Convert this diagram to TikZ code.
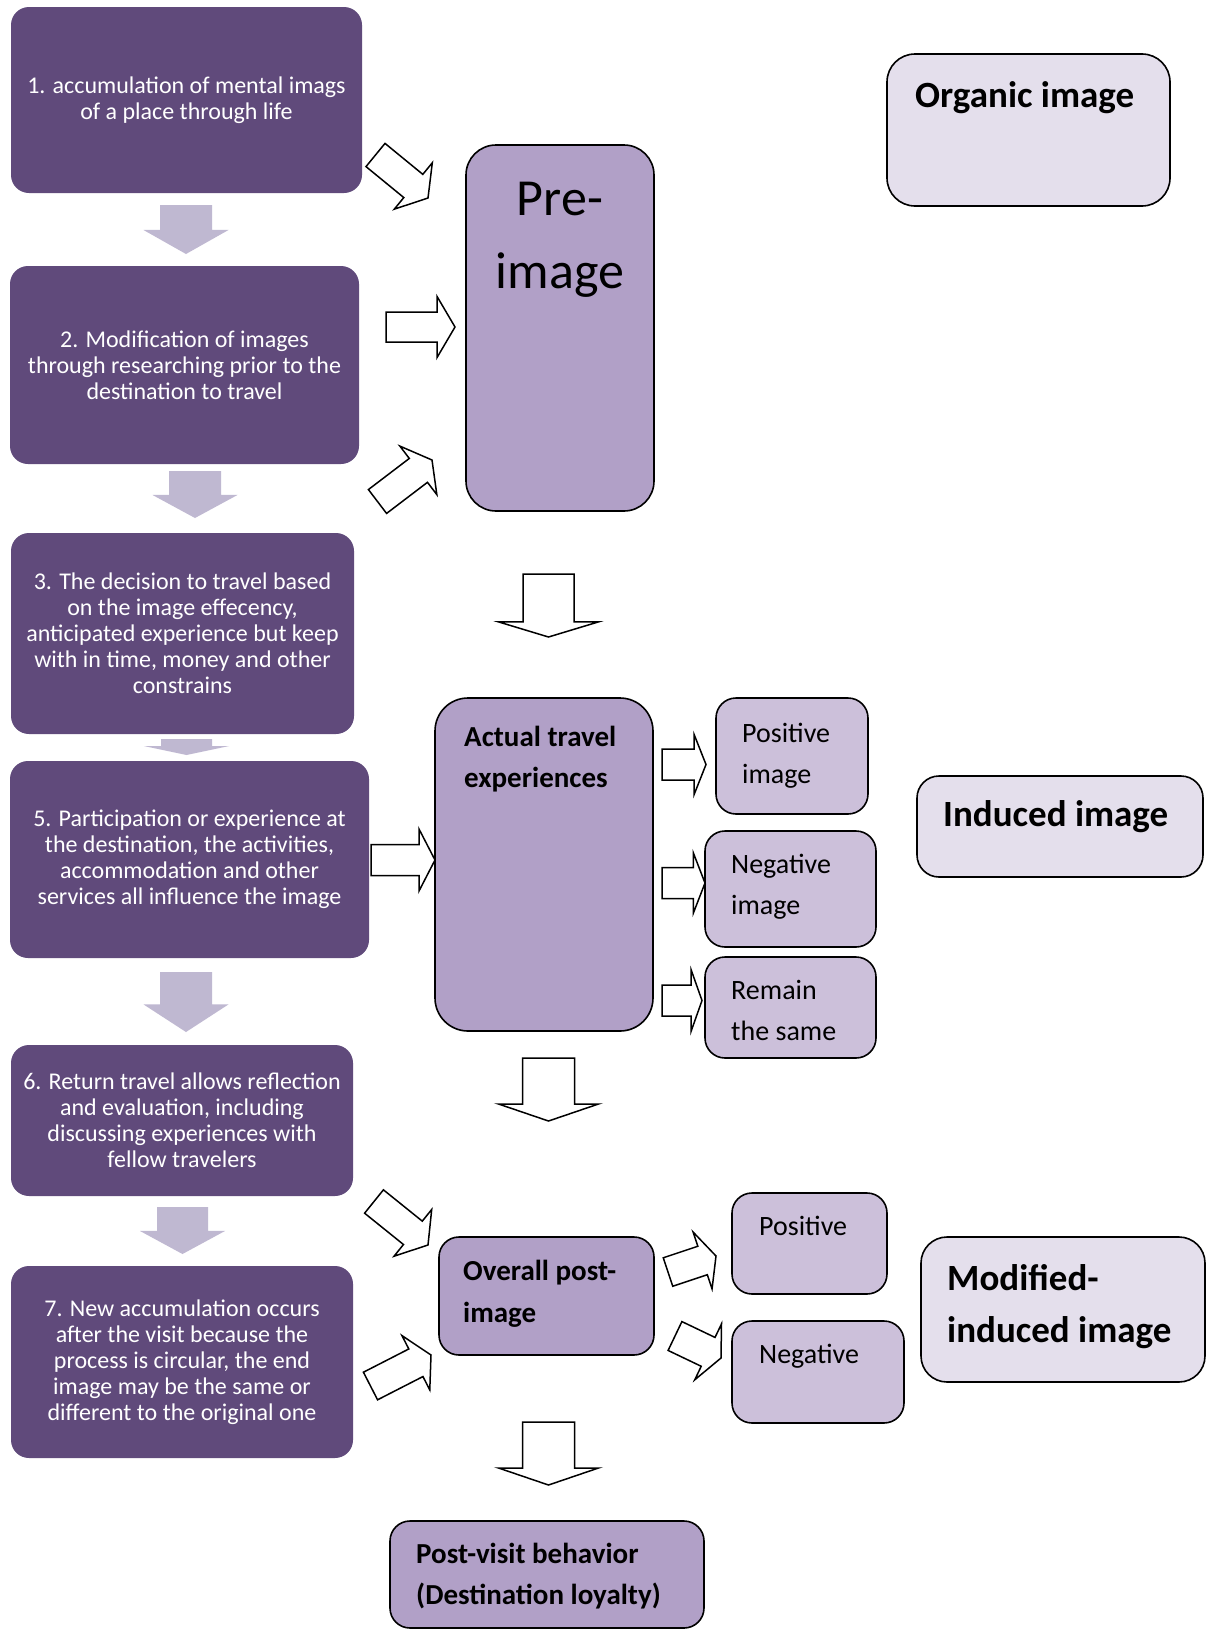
\documentclass[tikz,border=0pt]{standalone}
\usepackage{fontspec}
\setmainfont{Carlito}
\usetikzlibrary{calc}
\definecolor{darkpur}{HTML}{604A7B}
\definecolor{midpur}{HTML}{B1A0C7}
\definecolor{litpur}{HTML}{CCC0DA}
\definecolor{palepur}{HTML}{E4DFEC}
\definecolor{grayarr}{RGB}{191,184,209}
% block arrow: #1 style, #2 tail centre, #3 tip, #4 head-base fraction, #5 shaft half width, #6 head half width
\newcommand\blockarr[6]{%
  \coordinate (babase) at ($(#2)!#4!(#3)$);
  \path[#1] ($(#2)!#5!90:(#3)$) -- ($(babase)!#5!90:(#3)$) -- ($(babase)!#6!90:(#3)$) -- (#3)
    -- ($(babase)!#6!-90:(#3)$) -- ($(babase)!#5!-90:(#3)$) -- ($(#2)!#5!-90:(#3)$) -- cycle;}
\tikzset{
  darkbox/.style={fill=darkpur, rounded corners=18pt, text=white, font=\fontsize{24}{26}\selectfont, align=center, inner sep=0pt},
  midbox/.style={fill=midpur, draw=black, line width=1.6pt, inner sep=0pt},
  litbox/.style={fill=litpur, draw=black, line width=1.6pt, inner sep=0pt, rounded corners=20pt},
  palebox/.style={fill=palepur, draw=black, line width=1.6pt, inner sep=0pt},
  boldtxt/.style={font=\bfseries\fontsize{29}{41.5}\selectfont, align=left, inner sep=0pt, anchor=base west},
  regtxt/.style={font=\fontsize{28}{41}\selectfont, align=left, inner sep=0pt, anchor=base west},
  bigtxt/.style={font=\bfseries\fontsize{37}{52}\selectfont, align=left, inner sep=0pt, anchor=base west},
  hollow/.style={draw=black, fill=white, line width=1.5pt, line join=miter},
  grayfill/.style={fill=grayarr}
}
\begin{document}
\begin{tikzpicture}[x=1pt, y=-1pt]
\fill[white] (0,0) rectangle (1207,1630);
\path[use as bounding box] (0,0) rectangle (1207,1630);

% left column
\node[darkbox, minimum width=351pt, minimum height=186pt] (b1) at (186.5,100) {1. accumulation of mental imags\\of a place through life};
\node[darkbox, minimum width=349pt, minimum height=198pt] (b2) at (184.5,365) {2. Modification of images\\through researching prior to the\\destination to travel};
\node[darkbox, minimum width=343pt, minimum height=201pt] (b3) at (182.5,633.5) {3. The decision to travel based\\on the image effecency,\\anticipated experience but keep\\with in time, money and other\\constrains};
\node[darkbox, minimum width=359pt, minimum height=197pt] (b5) at (189.5,859.5) {5. Participation or experience at\\the destination, the activities,\\accommodation and other\\services all influence the image};
\node[darkbox, minimum width=342pt, minimum height=151pt] (b6) at (182,1120.5) {6. Return travel allows reflection\\and evaluation, including\\discussing experiences with\\fellow travelers};
\node[darkbox, minimum width=342pt, minimum height=192pt] (b7) at (182,1362) {7. New accumulation occurs\\after the visit because the\\process is circular, the end\\image may be the same or\\different to the original one};

% gray arrows between steps
\coordinate (g1T) at (186,205); \coordinate (g1P) at (186,254);
\coordinate (g2T) at (195,471); \coordinate (g2P) at (195,518);
\coordinate (g3T) at (186.5,739); \coordinate (g3P) at (186.5,755);
\coordinate (g4T) at (186,972); \coordinate (g4P) at (186,1032);
\coordinate (g5T) at (182.5,1207); \coordinate (g5P) at (182.5,1254);
\blockarr{grayfill}{g1T}{g1P}{0.51}{26pt}{42.5pt}
\blockarr{grayfill}{g2T}{g2P}{0.51}{26pt}{42.5pt}
\blockarr{grayfill}{g3T}{g3P}{0.44}{25.5pt}{42.5pt}
\blockarr{grayfill}{g4T}{g4P}{0.54}{26pt}{42.5pt}
\blockarr{grayfill}{g5T}{g5P}{0.51}{25.5pt}{42.5pt}

% middle column
\node[midbox, rounded corners=30pt, minimum width=188pt, minimum height=366pt] (pre) at (560,328) {};
\node[font=\fontsize{52}{73}\selectfont, align=center, anchor=base, inner sep=0pt] (pretxt) at (560,288) {Pre-\\image};

\node[midbox, rounded corners=33pt, minimum width=218pt, minimum height=333pt] (actual) at (544,864.5) {};
\node[boldtxt] (actualtxt) at (464,787.5) {Actual travel\\experiences};

\node[midbox, rounded corners=20pt, minimum width=215pt, minimum height=118pt] (overall) at (546.5,1296) {};
\node[boldtxt] (overalltxt) at (463,1322) {Overall post-\\image};

\node[midbox, rounded corners=20pt, minimum width=314pt, minimum height=107pt] (postvisit) at (547,1574.5) {};
\node[boldtxt] (postvisittxt) at (416,1604.5) {Post-visit behavior\\(Destination loyalty)};

% outcome boxes
\node[litbox, minimum width=152pt, minimum height=116pt] (pos1) at (792,756) {};
\node[regtxt] (pos1txt) at (742,783) {Positive\\image};
\node[litbox, minimum width=171pt, minimum height=116pt] (neg1) at (790.5,889) {};
\node[regtxt] (neg1txt) at (731,914) {Negative\\image};
\node[litbox, minimum width=171pt, minimum height=101pt] (rem) at (790.5,1007.5) {};
\node[regtxt] (remtxt) at (731,1040) {Remain\\the same};
\node[litbox, minimum width=155pt, minimum height=101pt] (pos2) at (809.5,1243.5) {};
\node[regtxt] (pos2txt) at (759,1235) {Positive};
\node[litbox, minimum width=172pt, minimum height=102pt] (neg2) at (818,1372) {};
\node[regtxt] (neg2txt) at (759,1363) {Negative};

% right column
\node[palebox, rounded corners=28pt, minimum width=283pt, minimum height=152pt] (organic) at (1028.5,130) {};
\node[bigtxt] (organictxt) at (915,107) {Organic image};
\node[palebox, rounded corners=22pt, minimum width=286pt, minimum height=101pt] (induced) at (1060,826.5) {};
\node[bigtxt] (inducedtxt) at (943,826) {Induced image};
\node[palebox, rounded corners=26pt, minimum width=284pt, minimum height=145pt] (modified) at (1063,1309.5) {};
\node[bigtxt] (modifiedtxt) at (947,1342) {Modified-\\induced image};

% hollow arrows
\coordinate (aT) at (375.5,155);  \coordinate (aP) at (428,198);
\coordinate (bT) at (386,327);    \coordinate (bP) at (455,327);
\coordinate (cT) at (377.5,501.5);\coordinate (cP) at (432,460);
\coordinate (dT) at (548.5,574);  \coordinate (dP) at (548.5,637);
\coordinate (e1T) at (662,764.5); \coordinate (e1P) at (706,764.5);
\coordinate (e2T) at (662,883);   \coordinate (e2P) at (705,883);
\coordinate (e3T) at (662,1000.5);\coordinate (e3P) at (702,1000.5);
\coordinate (fT) at (548.5,1058); \coordinate (fP) at (548.5,1121);
\coordinate (gT) at (371,860);    \coordinate (gP) at (435,860);
\coordinate (h1T) at (668,1272);  \coordinate (h1P) at (716,1256);
\coordinate (h2T) at (675,1336);  \coordinate (h2P) at (721,1358);
\coordinate (iT) at (548.5,1422); \coordinate (iP) at (548.5,1485);
\coordinate (jT) at (374,1201.5); \coordinate (jP) at (428,1245);
\coordinate (kT) at (370.5,1386); \coordinate (kP) at (431,1355);
\blockarr{hollow}{aT}{aP}{0.72}{15pt}{30pt}
\blockarr{hollow}{bT}{bP}{0.74}{15pt}{30.5pt}
\blockarr{hollow}{cT}{cP}{0.75}{15pt}{30.5pt}
\blockarr{hollow}{dT}{dP}{0.76}{25.5pt}{50pt}
\blockarr{hollow}{e1T}{e1P}{0.73}{15.5pt}{30pt}
\blockarr{hollow}{e2T}{e2P}{0.73}{15.5pt}{30pt}
\blockarr{hollow}{e3T}{e3P}{0.73}{15.5pt}{30.5pt}
\blockarr{hollow}{fT}{fP}{0.73}{26pt}{50pt}
\blockarr{hollow}{gT}{gP}{0.75}{15.5pt}{31pt}
\blockarr{hollow}{h1T}{h1P}{0.72}{15pt}{30pt}
\blockarr{hollow}{h2T}{h2P}{0.72}{16pt}{31pt}
\blockarr{hollow}{iT}{iP}{0.73}{26pt}{50pt}
\blockarr{hollow}{jT}{jP}{0.72}{15pt}{30pt}
\blockarr{hollow}{kT}{kP}{0.75}{15.5pt}{30.5pt}
\end{tikzpicture}
\end{document}
